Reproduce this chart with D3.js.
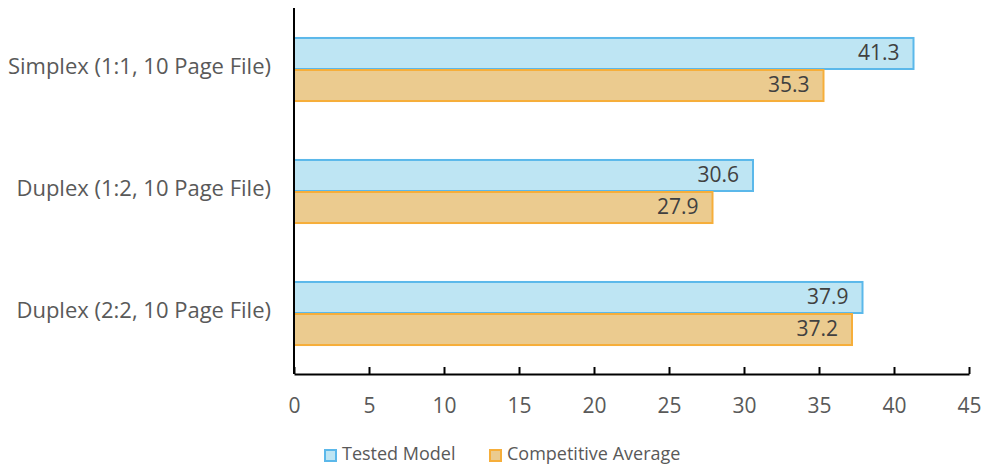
<!DOCTYPE html>
<html><head><meta charset="utf-8">
<script src="https://cdn.jsdelivr.net/npm/d3@7"></script>
<style>body{margin:0;background:#fff}svg{display:block}text{font-family:"Open Sans",sans-serif}</style>
</head><body>
<svg id="c" width="984" height="468"></svg>
<script>
const categories = ["Simplex (1:1, 10 Page File)", "Duplex (1:2, 10 Page File)", "Duplex (2:2, 10 Page File)"];
const seriesNames = ["Tested Model", "Competitive Average"];
const testedModel = [41.3, 30.6, 37.9];
const competitiveAverage = [35.3, 27.9, 37.2];
const xTicks = [0, 5, 10, 15, 20, 25, 30, 35, 40, 45];

(function () {
const fills = ["#BEE5F3", "#EBCB8F"];
const strokes = ["#5BB8EA", "#F6AE3A"];
const svg = d3.select("#c");
const pLeft = 294, pRight = 969, pTop = 8, pBottom = 374;

const x = d3.scaleLinear().domain([0, 45]).range([pLeft, pRight]);
const y = d3.scaleBand().domain(categories).range([pTop, pBottom]).paddingInner(0.475).paddingOuter(0.2375);
const sub = d3.scaleBand().domain(seriesNames).range([0, y.bandwidth()]);
const series = [testedModel, competitiveAverage];

const g = svg.append("g");
categories.forEach((c, i) => {
  series.forEach((s, j) => {
    const y0 = y(c) + sub(seriesNames[j]);
    g.append("rect").attr("x", x(0)).attr("y", y0 + 1)
      .attr("width", x(s[i]) - x(0)).attr("height", sub.bandwidth() - 1)
      .attr("fill", fills[j]).attr("stroke", strokes[j]).attr("stroke-width", 2);
    g.append("text").attr("x", x(s[i]) - 14).attr("y", y0 + sub.bandwidth() / 2 + 1)
      .attr("text-anchor", "end").attr("dominant-baseline", "middle")
      .attr("font-size", 21).attr("fill", "#404040").text(s[i].toFixed(1));
  });
  svg.append("text").attr("x", 271).attr("y", y(c) + y.bandwidth() / 2 - 1)
    .attr("text-anchor", "end").attr("dominant-baseline", "middle")
    .attr("font-size", 22).attr("fill", "#595959").text(c);
});

const xa = svg.append("g").attr("transform", `translate(0,${pBottom})`)
  .call(d3.axisBottom(x).tickValues(xTicks).tickSize(-7).tickPadding(0).tickSizeOuter(0));
xa.select(".domain").attr("stroke", "#000").attr("stroke-width", 2);
xa.selectAll(".tick line").attr("stroke", "#000").attr("stroke-width", 2);
xa.selectAll(".tick text").attr("font-size", 21).attr("fill", "#595959").attr("dy", "0").attr("y", 33)
  .attr("font-family", "'Open Sans',sans-serif").attr("dominant-baseline", "middle");

svg.append("line").attr("x1", pLeft).attr("x2", pLeft).attr("y1", pTop).attr("y2", pBottom)
  .attr("stroke", "#000").attr("stroke-width", 2);

const legendX = [325, 490];
seriesNames.forEach((n, j) => {
  svg.append("rect").attr("x", legendX[j]).attr("y", 450).attr("width", 11).attr("height", 11)
    .attr("fill", fills[j]).attr("stroke", strokes[j]).attr("stroke-width", 2);
  svg.append("text").attr("x", legendX[j] + 17).attr("y", 455).attr("dominant-baseline", "middle")
    .attr("font-size", 18).attr("fill", "#595959").text(n);
});
})();
</script>
</body></html>
